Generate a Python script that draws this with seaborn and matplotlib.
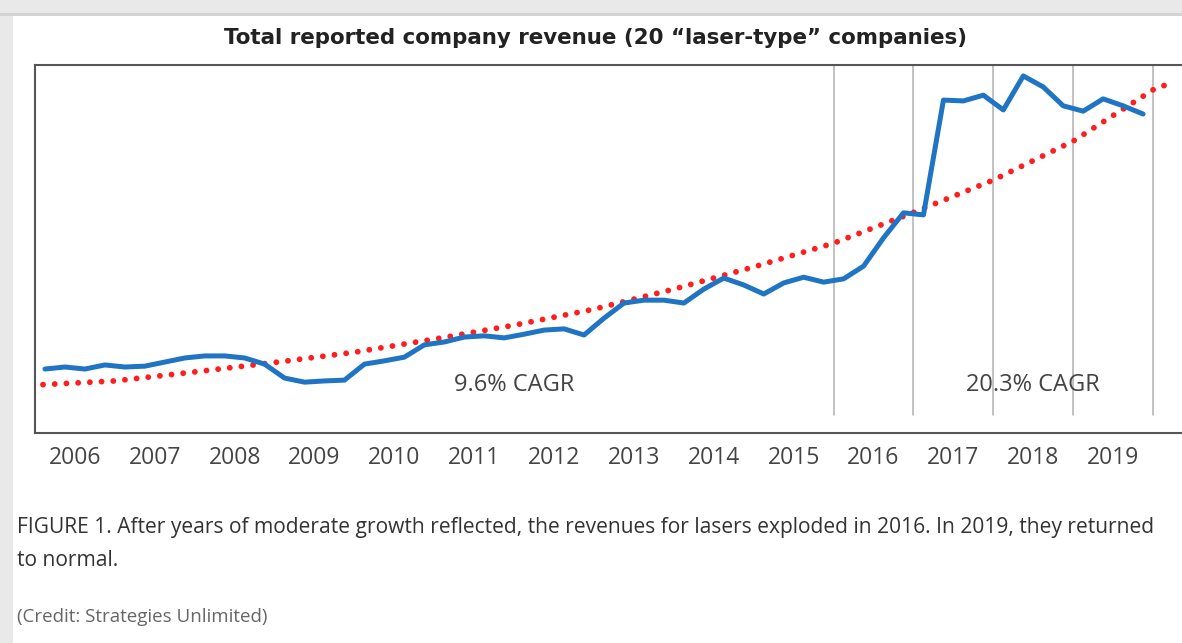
import numpy as np
import pandas as pd
import seaborn as sns
import matplotlib.pyplot as plt
from matplotlib.patches import Rectangle

# Quarterly revenue (arbitrary units), 2006Q1 - 2019Q4
quarters = pd.period_range('2006Q1', '2019Q4', freq='Q')
revenue = [1.56, 1.61, 1.56, 1.66, 1.61, 1.63, 1.73, 1.83,
           1.88, 1.88, 1.83, 1.68, 1.34, 1.24, 1.27, 1.29,
           1.68, 1.76, 1.85, 2.15, 2.22, 2.34, 2.37, 2.32,
           2.41, 2.51, 2.54, 2.39, 2.80, 3.17, 3.24, 3.24,
           3.17, 3.51, 3.78, 3.61, 3.39, 3.66, 3.80, 3.68,
           3.76, 4.07, 4.76, 5.37, 5.32, 8.12, 8.10, 8.24,
           7.88, 8.71, 8.44, 7.98, 7.85, 8.15, 7.98, 7.78]

# Exponential trend line, read at the start of each year
trend_years = [2006.1, 2007, 2008, 2009, 2010, 2011, 2012, 2013,
               2014, 2015, 2016, 2017, 2018, 2019, 2020, 2020.25]
trend_vals = [1.18, 1.27, 1.49, 1.72, 1.97, 2.29, 2.63, 3.02,
              3.51, 4.05, 4.63, 5.38, 6.17, 7.12, 8.37, 8.56]

year_labels = [str(y) for y in range(2006, 2020)]
grid_years = [2016, 2017, 2018, 2019, 2020]
cagr_labels = [(2012.0, '9.6% CAGR'), (2018.5, '20.3% CAGR')]

df = pd.DataFrame({'t': quarters.year + (quarters.quarter - 0.5) / 4,
                   'revenue': revenue})

sns.set_style('white')
plt.rcParams['font.family'] = ['Open Sans', 'DejaVu Sans']

fig = plt.figure(figsize=(11.82, 6.43), dpi=100, facecolor='#e9e9e9')
# page card with shadow edges
fig.patches.append(Rectangle((13 / 1182, 0), 1, 1 - 16 / 643, transform=fig.transFigure,
                             facecolor='white', edgecolor='none', zorder=-1))
fig.patches.append(Rectangle((0, 1 - 16 / 643), 1, 3 / 643, transform=fig.transFigure,
                             facecolor='#d4d4d4', edgecolor='none', zorder=-1))

ax = fig.add_axes([35 / 1182, 210 / 643, 1160 / 1182, 368 / 643])
ax.set_facecolor('white')

for g in grid_years:
    ax.axvline(g, ymin=0.05, ymax=1, color='#b0b0b0', lw=1.1, zorder=1)

ax.plot(trend_years, trend_vals, color='#ff1e1e', lw=4.2,
        linestyle=(0, (0.01, 2.0)), dash_capstyle='round', zorder=2)
sns.lineplot(data=df, x='t', y='revenue', ax=ax, color='#1f74c4', lw=3.6,
             zorder=3)

ax.set_xlim(2006.0, 2020.525)
ax.set_ylim(0, 8.976)
ax.set_xlabel('')
ax.set_ylabel('')

ax.set_xticks(range(2007, 2021))
ax.set_xticklabels([])
ax.set_xticks([y + 0.5 for y in range(2006, 2020)], minor=True)
ax.set_xticklabels(year_labels, minor=True, fontsize=16.5, color='#444444')
ax.tick_params(axis='x', which='major', direction='in', length=6, width=1.3,
               color='#555555')
ax.tick_params(axis='x', which='minor', length=0, pad=9)
ax.set_yticks(range(1, 9))
ax.set_yticklabels([])
ax.tick_params(axis='y', direction='in', length=6, width=1.3, color='#555555')

for side in ['top', 'left', 'bottom', 'right']:
    ax.spines[side].set_color('#555555')
    ax.spines[side].set_linewidth(1.5)

for x, txt in cagr_labels:
    ax.text(x, 1.17, txt, ha='center', va='center', fontsize=17, color='#444444')

fig.text(595 / 1182, 1 - 38 / 643,
         'Total reported company revenue (20 \u201claser-type\u201d companies)',
         ha='center', va='center', fontsize=15.4, fontweight='bold', color='#222222',
         family='DejaVu Sans')

fig.text(17 / 1182, 1 - 527 / 643,
         'FIGURE 1. After years of moderate growth reflected, the revenues for lasers '
         'exploded in 2016. In 2019, they returned',
         ha='left', va='center', fontsize=15.1, color='#333333')
fig.text(17 / 1182, 1 - 561 / 643, 'to normal.',
         ha='left', va='center', fontsize=15.1, color='#333333')
fig.text(17 / 1182, 1 - 617 / 643, '(Credit: Strategies Unlimited)',
         ha='left', va='center', fontsize=13.5, color='#666666')

fig.savefig('out.png', dpi=100)
